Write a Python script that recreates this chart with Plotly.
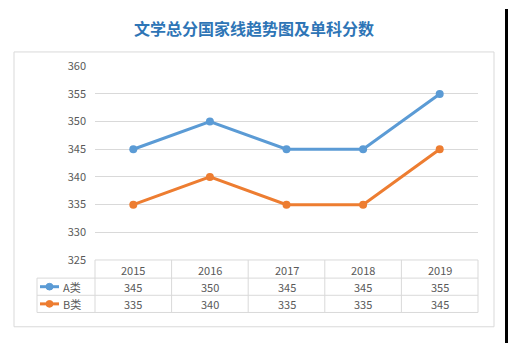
import plotly.graph_objects as go

# ---- data ----
title_text = "文学总分国家线趋势图及单科分数"
years = ["2015", "2016", "2017", "2018", "2019"]
series_names = ["A类", "B类"]
a_values = [345, 350, 345, 345, 355]
b_values = [335, 340, 335, 335, 345]
y_ticks = [325, 330, 335, 340, 345, 350, 355, 360]

colors = ["#5B9BD5", "#ED7D31"]
W, H = 508, 350

def px(x):
    return x / W

def py(y):
    return 1 - y / H

# plot area in pixels
L, R, T, B = 95, 478, 60, 263

fig = go.Figure()
for name, vals, c in zip(series_names, [a_values, b_values], colors):
    fig.add_trace(go.Scatter(
        x=years, y=vals, name=name, mode="lines+markers",
        line=dict(color=c, width=3),
        marker=dict(color=c, size=8),
        showlegend=False, hoverinfo="skip"))

shapes = []
grid = "#D9D9D9"
# outer border
shapes.append(dict(type="rect", xref="paper", yref="paper",
                   x0=px(14), x1=px(494), y0=py(333), y1=py(45),
                   line=dict(color=grid, width=1)))
# black strip on the right
shapes.append(dict(type="rect", xref="paper", yref="paper",
                   x0=px(505), x1=1, y0=0, y1=1,
                   line=dict(width=0), fillcolor="black"))
# table rows
row_y = [263, 282, 300, 318]
for i, yy in enumerate(row_y):
    x0 = L if i == 0 else 37
    shapes.append(dict(type="line", xref="paper", yref="paper",
                       x0=px(x0), x1=px(R), y0=py(yy), y1=py(yy),
                       line=dict(color=grid, width=1)))
# table verticals
shapes.append(dict(type="line", xref="paper", yref="paper",
                   x0=px(37), x1=px(37), y0=py(282), y1=py(318),
                   line=dict(color=grid, width=1)))
ncol = len(years)
for k in range(ncol + 1):
    xx = L + (R - L) * k / ncol
    shapes.append(dict(type="line", xref="paper", yref="paper",
                       x0=px(xx), x1=px(xx), y0=py(263), y1=py(318),
                       line=dict(color=grid, width=1)))

annotations = []
tfont = dict(family="Noto Sans CJK SC", size=11, color="#595959")

def col_center(i):
    return px(L + (R - L) * (i + 0.5) / ncol)

# header years
for i, yr in enumerate(years):
    annotations.append(dict(x=col_center(i), y=py(273), xref="paper", yref="paper",
                            text=yr, showarrow=False, font=tfont,
                            xanchor="center", yanchor="middle"))
# series rows
row_centers = [291, 309]
for name, vals, c, yc in zip(series_names, [a_values, b_values], colors, row_centers):
    for i, v in enumerate(vals):
        annotations.append(dict(x=col_center(i), y=py(yc), xref="paper", yref="paper",
                                text=str(v), showarrow=False, font=tfont,
                                xanchor="center", yanchor="middle"))
    # legend key
    shapes.append(dict(type="line", xref="paper", yref="paper",
                       x0=px(40), x1=px(59), y0=py(yc), y1=py(yc),
                       line=dict(color=c, width=3)))
    shapes.append(dict(type="circle", xref="paper", yref="paper",
                       x0=px(46), x1=px(53), y0=py(yc + 3.5), y1=py(yc - 3.5),
                       line=dict(color=c, width=1), fillcolor=c))
    annotations.append(dict(x=px(61), y=py(yc), xref="paper", yref="paper",
                            text=name, showarrow=False, font=tfont,
                            xanchor="left", yanchor="middle"))

# title
annotations.append(dict(x=px(254), y=py(20), xref="paper", yref="paper",
                        text="<b>" + title_text + "</b>", showarrow=False,
                        font=dict(family="Noto Sans CJK SC", size=16, color="#2E75B6"),
                        xanchor="center", yanchor="middle"))

fig.update_layout(
    width=W, height=H,
    margin=dict(l=0, r=0, t=0, b=0),
    paper_bgcolor="white", plot_bgcolor="white",
    shapes=shapes, annotations=annotations,
    xaxis=dict(domain=[px(L), px(R)], type="category", range=[-0.5, 4.5],
               showticklabels=False, showgrid=False, zeroline=False,
               showline=False, ticks=""),
    yaxis=dict(domain=[py(B), py(T)], range=[325, 360],
               tickvals=y_ticks, ticktext=[str(t) for t in y_ticks],
               showgrid=True, gridcolor=grid, gridwidth=1,
               zeroline=False, showline=False, ticks="",
               ticklabelstandoff=8,
               tickfont=dict(family="Noto Sans CJK SC", size=11, color="#595959")),
)

fig.write_html("out.html")
